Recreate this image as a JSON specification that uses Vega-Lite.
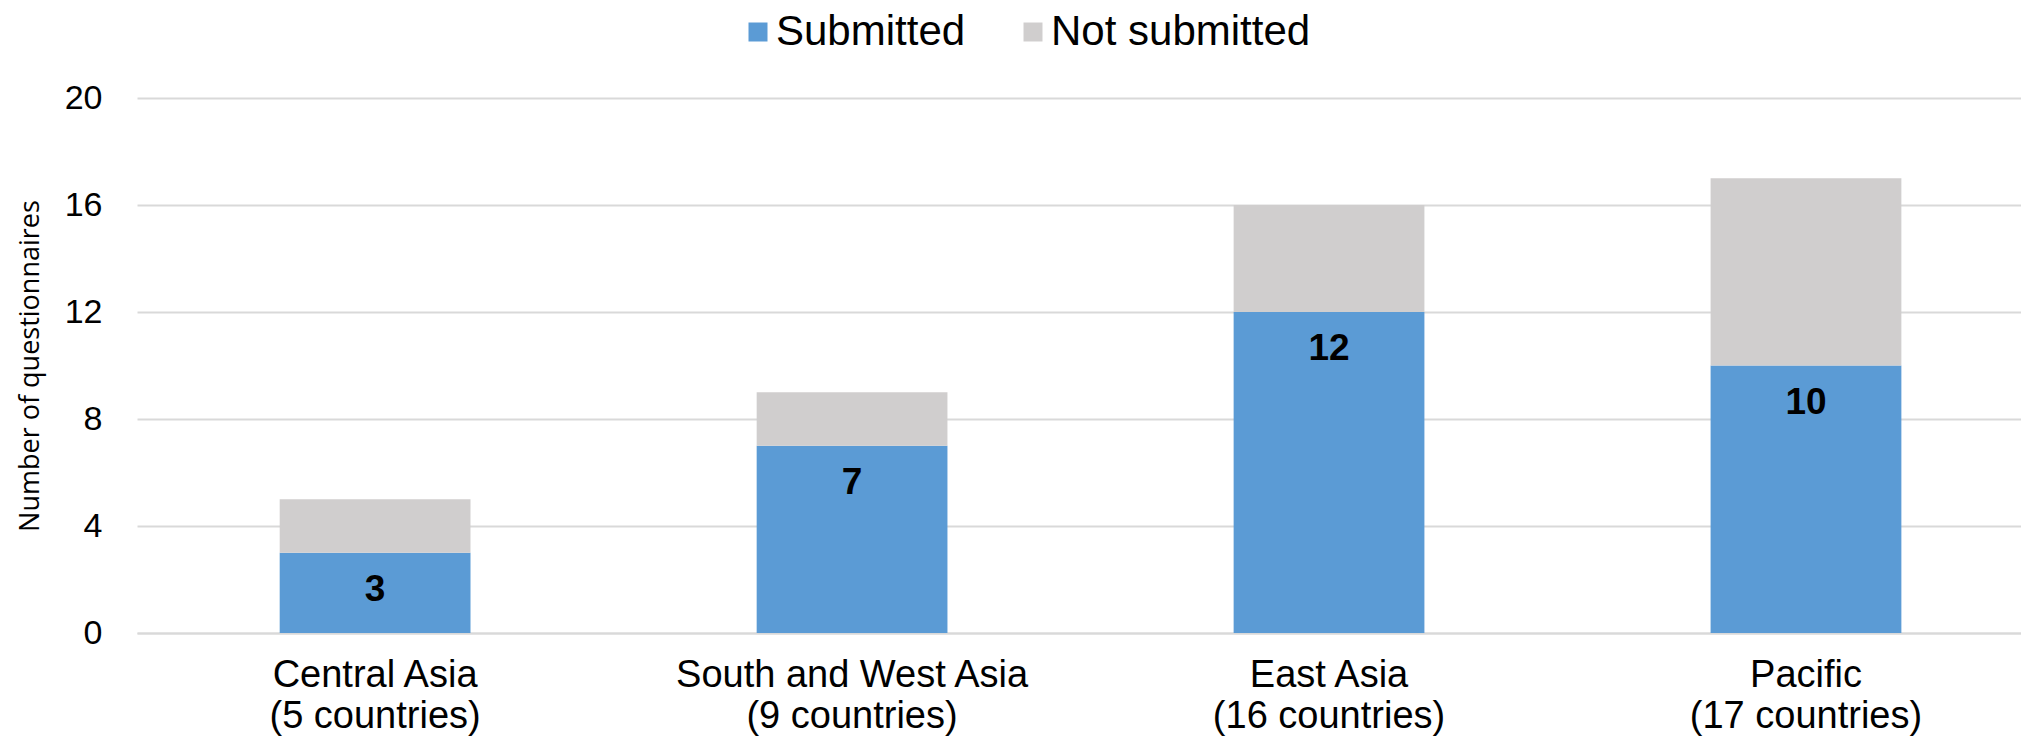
{
  "$schema": "https://vega.github.io/schema/vega-lite/v6.json",
  "width": 1884,
  "height": 535,
  "autosize": "none",
  "padding": {"left": 137, "top": 98, "right": 0, "bottom": 103},
  "background": "white",
  "config": {
    "view": {"stroke": null},
    "font": "Liberation Sans",
    "axis": {"labelFont": "Liberation Sans", "labelColor": "#000000"}
  },
  "data": {
    "values": [
      {"region": "Central Asia|(5 countries)", "status": "Submitted", "count": 3, "order": 1},
      {"region": "Central Asia|(5 countries)", "status": "Not submitted", "count": 2, "order": 2},
      {"region": "South and West Asia|(9 countries)", "status": "Submitted", "count": 7, "order": 1},
      {"region": "South and West Asia|(9 countries)", "status": "Not submitted", "count": 2, "order": 2},
      {"region": "East Asia|(16 countries)", "status": "Submitted", "count": 12, "order": 1},
      {"region": "East Asia|(16 countries)", "status": "Not submitted", "count": 4, "order": 2},
      {"region": "Pacific|(17 countries)", "status": "Submitted", "count": 10, "order": 1},
      {"region": "Pacific|(17 countries)", "status": "Not submitted", "count": 7, "order": 2}
    ]
  },
  "encoding": {
    "x": {
      "field": "region",
      "type": "nominal",
      "sort": null,
      "scale": {"paddingInner": 0.6, "paddingOuter": 0.275, "align": 0.544},
      "axis": {
        "title": null,
        "labelAngle": 0,
        "labelExpr": "split(datum.label, '|')",
        "labelFontSize": 38,
        "labelLineHeight": 41,
        "labelPadding": 23,
        "labelLimit": 0,
        "ticks": false,
        "domain": true,
        "domainColor": "#d9d9d9",
        "domainWidth": 2
      }
    }
  },
  "layer": [
    {
      "mark": {"type": "bar"},
      "encoding": {
        "y": {
          "field": "count",
          "type": "quantitative",
          "stack": "zero",
          "scale": {"domain": [0, 20]},
          "axis": {
            "title": "Number of questionnaires",
            "titleFont": "Open Sans",
            "titleFontWeight": "normal",
            "titleFontSize": 27,
            "titleColor": "#000000",
            "titlePadding": 20,
            "values": [0, 4, 8, 12, 16, 20],
            "labelFontSize": 34,
            "labelPadding": 35,
            "ticks": false,
            "domain": false,
            "gridColor": "#d9d9d9",
            "gridWidth": 2
          }
        },
        "color": {
          "field": "status",
          "type": "nominal",
          "scale": {"domain": ["Submitted", "Not submitted"], "range": ["#5b9bd5", "#d0cece"]},
          "legend": {
            "title": null,
            "orient": "none",
            "direction": "horizontal",
            "legendX": 600,
            "legendY": -87,
            "symbolType": "square",
            "symbolSize": 361,
            "symbolStrokeWidth": 0,
            "labelFontSize": 42,
            "labelLimit": 0,
            "labelColor": "#000000",
            "labelOffset": -3,
            "columnPadding": 46
          }
        },
        "order": {"field": "order", "type": "quantitative"}
      }
    },
    {
      "transform": [{"filter": "datum.status === 'Submitted'"}],
      "mark": {"type": "text", "fontWeight": "bold", "fontSize": 37, "baseline": "middle", "dy": 37, "color": "#000000"},
      "encoding": {
        "y": {"field": "count", "type": "quantitative"},
        "text": {"field": "count", "type": "quantitative"}
      }
    }
  ]
}
